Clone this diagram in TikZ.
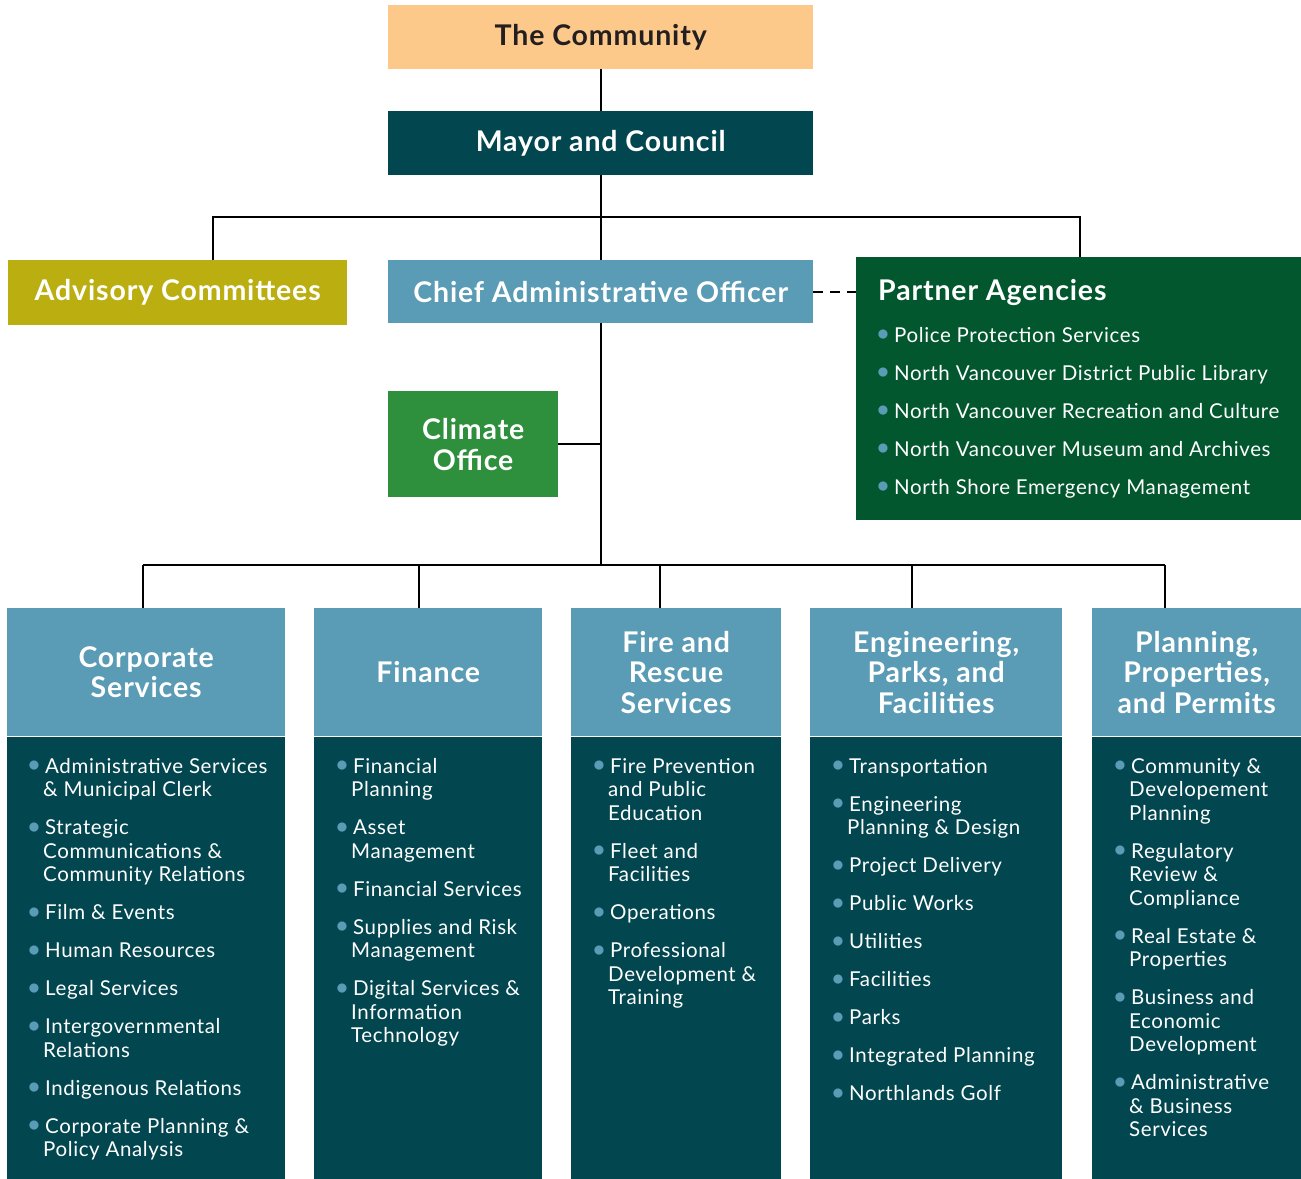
\documentclass[tikz,border=0pt]{standalone}
\usepackage{fontspec}
\setmainfont{Lato}[LetterSpace=3]
\usetikzlibrary{positioning}
\definecolor{peach}{HTML}{FDC98B}
\definecolor{deepteal}{HTML}{02464F}
\definecolor{olive}{HTML}{BBAE10}
\definecolor{steel}{HTML}{5A9BB5}
\definecolor{forest}{HTML}{02572E}
\definecolor{leaf}{HTML}{2E8F3D}
\definecolor{ink}{HTML}{231F20}
\newcommand{\bul}{\makebox[17pt][l]{\textcolor{steel}{\raisebox{1.5pt}{\scalebox{1.15}{$\bullet$}}}}}
\newcommand{\ind}{\hspace*{15pt}}

\begin{document}
\begin{tikzpicture}[
  x=1pt, y=-1pt,
  box/.style={anchor=north west, inner sep=0pt, align=center, font=\bfseries\fontsize{28.5}{31}\selectfont},
  head/.style={box, fill=steel, text=white, minimum height=128pt, font=\bfseries\fontsize{28.5}{30.5}\selectfont},
  body/.style={anchor=north west, inner sep=0pt, fill=deepteal},
  items/.style={anchor=north west, inner sep=0pt, align=left, text=white, font=\fontsize{20.5}{23.5}\selectfont},
  link/.style={draw=black, line width=2pt}
]
\useasboundingbox (0,0) rectangle (1301,1178);

% top of the chart
\node[box, fill=peach, text=ink, minimum width=425pt, minimum height=64pt] (community) at (388,5) {The Community};
\node[box, fill=deepteal, text=white, minimum width=425pt, minimum height=64pt] (mayor) at (388,111) {Mayor and Council};
\node[box, fill=olive, text=white, minimum width=339pt, minimum height=65pt] (advisory) at (8,260) {Advisory Committees};
\node[box, fill=steel, text=white, minimum width=425pt, minimum height=63pt] (cao) at (388,260) {Chief Administrative Officer};
\node[box, fill=leaf, text=white, minimum width=170pt, minimum height=106pt] (climate) at (388,391) {Climate\\Office};

% partner agencies
\node[body, fill=forest, minimum width=445pt, minimum height=263pt] (partner) at (856,257) {};
\node[anchor=west, inner sep=0pt, text=white, font=\bfseries\fontsize{28.5}{30}\selectfont] (partnertitle) at (878,293) {Partner Agencies};
\node[items] (partnerlist) at (877,327) {\bul Police Protection Services\\[14.5pt]
  \bul North Vancouver District Public Library\\[14.5pt]
  \bul North Vancouver Recreation and Culture\\[14.5pt]
  \bul North Vancouver Museum and Archives\\[14.5pt]
  \bul North Shore Emergency Management};

% departments
\node[head, minimum width=278pt] (corp) at (7,608) {Corporate\\Services};
\node[head, minimum width=228pt] (fin) at (314,608) {Finance};
\node[head, minimum width=210pt] (fire) at (571,608) {Fire and\\Rescue\\Services};
\node[head, minimum width=252pt] (eng) at (810,608) {Engineering,\\Parks, and\\Facilities};
\node[head, minimum width=209pt] (plan) at (1092,608) {Planning,\\Properties,\\and Permits};

\foreach \n/\w in {corp/278, fin/228, fire/210, eng/252, plan/209}
  \node[body, minimum width=\w pt, minimum height=442pt, below=0pt of \n] (\n body) {};

\node[items] (corplist) at (28,758) {\bul Administrative Services\\ \ind\& Municipal Clerk\\[14.5pt]
  \bul Strategic\\ \ind Communications \&\\ \ind Community Relations\\[14.5pt]
  \bul Film \& Events\\[14.5pt]
  \bul Human Resources\\[14.5pt]
  \bul Legal Services\\[14.5pt]
  \bul Intergovernmental\\ \ind Relations\\[14.5pt]
  \bul Indigenous Relations\\[14.5pt]
  \bul Corporate Planning \&\\ \ind Policy Analysis};

\node[items] (finlist) at (336,758) {\bul Financial\\ \ind Planning\\[14.5pt]
  \bul Asset\\ \ind Management\\[14.5pt]
  \bul Financial Services\\[14.5pt]
  \bul Supplies and Risk\\ \ind Management\\[14.5pt]
  \bul Digital Services \&\\ \ind Information\\ \ind Technology};

\node[items] (firelist) at (593,758) {\bul Fire Prevention\\ \ind and Public\\ \ind Education\\[14.5pt]
  \bul Fleet and\\ \ind Facilities\\[14.5pt]
  \bul Operations\\[14.5pt]
  \bul Professional\\ \ind Development \&\\ \ind Training};

\node[items] (englist) at (832,758) {\bul Transportation\\[14.5pt]
  \bul Engineering\\ \ind Planning \& Design\\[14.5pt]
  \bul Project Delivery\\[14.5pt]
  \bul Public Works\\[14.5pt]
  \bul Utilities\\[14.5pt]
  \bul Facilities\\[14.5pt]
  \bul Parks\\[14.5pt]
  \bul Integrated Planning\\[14.5pt]
  \bul Northlands Golf};

\node[items] (planlist) at (1114,758) {\bul Community \&\\ \ind Developement\\ \ind Planning\\[14.5pt]
  \bul Regulatory\\ \ind Review \&\\ \ind Compliance\\[14.5pt]
  \bul Real Estate \&\\ \ind Properties\\[14.5pt]
  \bul Business and\\ \ind Economic\\ \ind Development\\[14.5pt]
  \bul Administrative\\ \ind\& Business\\ \ind Services};

% connectors
\coordinate (advdrop) at (213,217);
\coordinate (agydrop) at (1080,217);
\coordinate (bus) at (600,565);
\coordinate (d1) at (143,565);
\coordinate (d2) at (419,565);
\coordinate (d3) at (660,565);
\coordinate (d4) at (912,565);
\coordinate (d5) at (1165,565);

\draw[link] (community) -- (mayor);
\draw[link] (mayor) -- (cao);
\draw[link] (advdrop |- advisory.north) -- (advdrop) -- (agydrop) -- (agydrop |- partner.north);
\draw[link, dash pattern=on 10pt off 7pt] (cao.east) -- (partner.west |- cao.east);
\draw[link] (cao.south) -- (cao.south |- bus);
\draw[link] (climate.east) -- (climate.east -| cao.south);
\draw[link] (d1) -- (d5);
\foreach \d/\n in {d1/corp, d2/fin, d3/fire, d4/eng, d5/plan}
  \draw[link] (\d) -- (\d |- \n.north);
\end{tikzpicture}
\end{document}
